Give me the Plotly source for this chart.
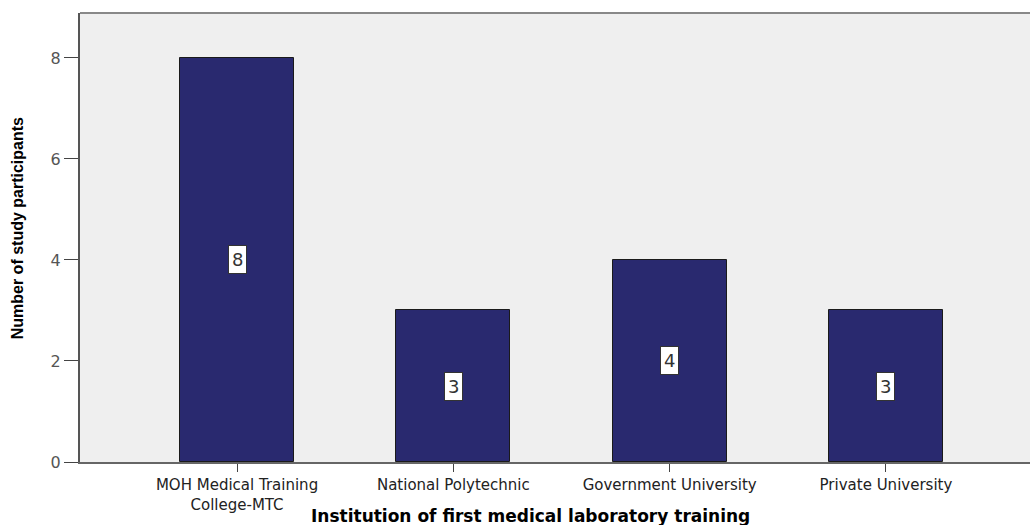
import plotly.graph_objects as go

# Counts of study participants by institution of first laboratory training
institutions = [
    "MOH Medical Training<br>College-MTC",
    "National Polytechnic",
    "Government University",
    "Private University",
]
participants = [8, 3, 4, 3]
y_ticks = [0, 2, 4, 6, 8]

BAR_COLOR = "#29296f"
PLOT_BG = "#efefef"
WIDE_FONT = "DejaVu Sans, Verdana, sans-serif"

fig = go.Figure(
    go.Bar(
        x=list(range(len(institutions))),
        y=participants,
        width=0.527,
        marker=dict(color=BAR_COLOR, line=dict(color="#1a1a1a", width=1)),
        hoverinfo="skip",
    )
)

# Value labels in white boxes at the middle of each bar
for i, v in enumerate(participants):
    fig.add_annotation(
        x=i, y=v / 2, text=str(v), showarrow=False,
        font=dict(family=WIDE_FONT, size=18, color="#333333"),
        bgcolor="white", bordercolor="#333333", borderwidth=1, borderpad=3,
    )

# Axis titles
fig.add_annotation(
    xref="paper", yref="paper", x=0.474, y=-0.12, yanchor="middle",
    text="<b>Institution of first medical laboratory training</b>", showarrow=False,
    font=dict(family=WIDE_FONT, size=17, color="#000000"),
)
fig.add_annotation(
    xref="paper", yref="paper", x=-0.0655, xanchor="center", y=0.52,
    text="<b>Number of study participants</b>", showarrow=False, textangle=-90,
    font=dict(family="Liberation Sans Narrow, Arial Narrow, sans-serif", size=16, color="#000000"),
)

# Top frame line of the plot area
fig.add_shape(
    type="line", xref="paper", yref="paper", x0=0, x1=1, y0=1, y1=1,
    line=dict(color="#888888", width=2),
)

fig.update_layout(
    width=1030, height=525,
    margin=dict(l=80, r=0, t=13, b=63),
    paper_bgcolor="white",
    plot_bgcolor=PLOT_BG,
    showlegend=False,
    bargap=0,
    xaxis=dict(
        range=[-0.726, 3.666],
        tickmode="array",
        tickvals=list(range(len(institutions))),
        ticktext=institutions,
        ticks="outside", ticklen=8, tickcolor="#444444", tickwidth=1,
        showgrid=False, zeroline=False,
        showline=True, linecolor="#666666", linewidth=2,
        tickfont=dict(family=WIDE_FONT, size=15, color="#222222"),
    ),
    yaxis=dict(
        range=[0, 8.89],
        tickmode="array",
        tickvals=y_ticks,
        ticks="outside", ticklen=14, tickcolor="#444444", tickwidth=1,
        showgrid=False, zeroline=False,
        showline=True, linecolor="#555555", linewidth=2,
        tickfont=dict(family=WIDE_FONT, size=16, color="#555555"),
    ),
)

fig.write_html("out.html")
